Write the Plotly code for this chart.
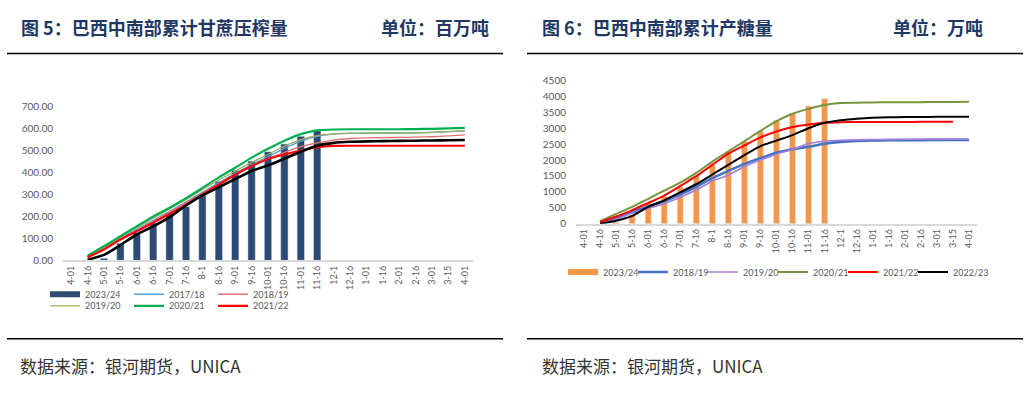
import plotly.graph_objects as go

W, H = 1033, 397

# ---------------- data ----------------
cats = ["4-01", "4-16", "5-01", "5-16", "6-01", "6-16", "7-01", "7-16", "8-1", "8-16",
        "9-01", "9-16", "10-01", "10-16", "11-01", "11-16", "12-1", "12-16", "1-01", "1-16",
        "2-01", "2-16", "3-01", "3-15", "4-01"]

# Figure 5: cumulative cane crush (million t)
crush_2324 = [None, None, 10, 78, 126, 170, 212, 245, 296, 360, 410, 452, 495, 530, 565, 595,
              None, None, None, None, None, None, None, None, None]
crush_1718 = [None, 18, 55, 100, 142, 183, 224, 266, 310, 354, 396, 436, 472, 510, 543, 565,
              575, 578, 579, 580, 580, 581, 583, 586, 590]
crush_1819 = [None, 16, 52, 96, 137, 178, 220, 262, 305, 348, 390, 428, 462, 492, 518, 535,
              548, 555, 558, 559, 560, 561, 563, 567, 571]
crush_1920 = [None, 20, 60, 106, 150, 192, 234, 277, 322, 366, 406, 446, 482, 520, 550, 568,
              576, 579, 580, 580, 580, 581, 583, 586, 590]
crush_2021 = [None, 22, 65, 110, 155, 200, 240, 283, 330, 378, 422, 468, 508, 545, 575, 592,
              596, 597, 597, 597, 597, 598, 599, 601, 603]
crush_2122 = [None, 15, 50, 95, 133, 172, 212, 254, 300, 345, 390, 430, 462, 482, 500, 515,
              521, 522, 522, 522, 522, 522, 522, 522, 522]
crush_2223 = [None, 3, 25, 70, 118, 155, 197, 250, 296, 333, 370, 407, 433, 463, 495, 522,
              535, 540, 542, 543, 544, 545, 546, 547, 548]

# Figure 6: cumulative sugar output (10k t)
sugar_2324 = [None, None, 40, 274, 650, 850, 1150, 1500, 1850, 2256, 2591, 2917, 3242, 3476, 3699, 3930,
              None, None, None, None, None, None, None, None, None]
sugar_1819 = [None, 40, 173, 376, 540, 700, 920, 1160, 1430, 1660, 1880, 2060, 2230, 2337, 2420, 2510,
              2570, 2600, 2615, 2620, 2624, 2627, 2629, 2630, 2632]
sugar_1920 = [None, 20, 142, 325, 478, 630, 833, 1057, 1341, 1524, 1799, 2002, 2185, 2337, 2520, 2591,
              2620, 2635, 2645, 2650, 2653, 2656, 2658, 2660, 2663]
sugar_2021 = [None, 80, 305, 528, 782, 1037, 1290, 1595, 1951, 2276, 2591, 2917, 3222, 3455, 3608, 3730,
              3790, 3800, 3810, 3815, 3818, 3820, 3822, 3826, 3831]
sugar_2122 = [None, 50, 224, 427, 650, 884, 1189, 1494, 1850, 2205, 2460, 2713, 2896, 3040, 3120, 3170,
              3190, 3195, 3197, 3198, 3199, 3200, 3200, 3200, None]
sugar_2223 = [None, 0, 91, 244, 528, 732, 986, 1240, 1545, 1850, 2154, 2439, 2612, 2785, 3000, 3170,
              3252, 3300, 3330, 3345, 3350, 3355, 3358, 3362, 3364]

xs = list(range(len(cats)))

def px(x):
    return x / W

def py(y):
    return 1 - y / H

NUM_FONT = "Lato"
CJK_FONT = "Noto Sans CJK SC"
GRAY = "#595959"

fig = go.Figure()

# ---------- left chart ----------
NAVY = "#2C4A72"
fig.add_trace(go.Bar(x=xs, y=crush_2324, width=0.45, marker_color=NAVY, showlegend=False,
                     xaxis="x", yaxis="y", name="2023/24"))
left_lines = [
    ("2017/18", crush_1718, "#5B9BD5", 1.3, "legend"),
    ("2018/19", crush_1819, "#E07070", 1.3, "legend"),
    ("2019/20", crush_1920, "#9DAE5E", 1.3, "legend2"),
    ("2020/21", crush_2021, "#00B050", 2.2, "legend2"),
    ("2021/22", crush_2122, "#FF0000", 2.2, "legend2"),
    ("2022/23", crush_2223, "#000000", 2.6, None),
]
# legend proxy for bar series
fig.add_trace(go.Scatter(x=[None], y=[None], mode="lines", name="2023/24",
                         line=dict(color=NAVY, width=6), xaxis="x", yaxis="y", legend="legend"))
for name, vals, col, w, lg in left_lines:
    kw = dict(legend=lg) if lg else dict(showlegend=False)
    fig.add_trace(go.Scatter(x=xs, y=vals, mode="lines", name=name,
                             line=dict(color=col, width=w, shape="spline", smoothing=0.6),
                             xaxis="x", yaxis="y", **kw))

# ---------- right chart ----------
ORANGE = "#F79646"
fig.add_trace(go.Bar(x=xs, y=sugar_2324, width=0.38, marker_color=ORANGE, showlegend=False,
                     xaxis="x2", yaxis="y2", name="2023/24"))
fig.add_trace(go.Scatter(x=[None], y=[None], mode="lines", name="2023/24",
                         line=dict(color=ORANGE, width=6), xaxis="x2", yaxis="y2", legend="legend3"))
right_lines = [
    ("2018/19", sugar_1819, "#4472C4", 2.6),
    ("2019/20", sugar_1920, "#A57EDB", 1.6),
    ("2020/21", sugar_2021, "#77933C", 2.0),
    ("2021/22", sugar_2122, "#FF0000", 2.0),
    ("2022/23", sugar_2223, "#000000", 2.0),
]
for k, (name, vals, col, w) in enumerate(right_lines):
    fig.add_trace(go.Scatter(x=xs, y=vals, mode="lines", name=name,
                             line=dict(color=col, width=w, shape="spline", smoothing=0.6),
                             xaxis="x2", yaxis="y2", legend=f"legend{k + 4}"))

xaxis_common = dict(range=[-0.5, len(cats) - 0.5], tickmode="array", tickvals=xs, ticktext=cats,
                    tickangle=-90, showgrid=False, zeroline=False, showline=True,
                    linecolor="#D9D9D9", linewidth=1.5, ticks="",
                    tickfont=dict(family=NUM_FONT, size=9, color=GRAY), fixedrange=True)
yaxis_common = dict(showgrid=False, zeroline=False, showline=False, ticks="",
                    tickfont=dict(family=NUM_FONT, size=10, color=GRAY), fixedrange=True,
                    ticklabelstandoff=9)

legend_common = dict(orientation="h", bgcolor="rgba(0,0,0,0)", borderwidth=0,
                     xanchor="left", yanchor="middle",
                     itemclick=False, itemdoubleclick=False,
                     font=dict(family=NUM_FONT, size=9, color=GRAY))

legends = dict(
    legend=dict(x=px(45), y=py(297), entrywidth=39, entrywidthmode="pixels", **legend_common),
    legend2=dict(x=px(45), y=py(309), entrywidth=39, entrywidthmode="pixels", **legend_common),
)
for k in range(6):
    legends[f"legend{k + 3}"] = dict(x=px(563 + 70 * k), y=py(274), **legend_common)

fig.update_layout(
    width=W, height=H, autosize=False,
    margin=dict(l=0, r=0, t=0, b=0),
    paper_bgcolor="white", plot_bgcolor="white",
    barmode="overlay",
    xaxis=dict(domain=[px(63), px(473)], anchor="y", **xaxis_common),
    yaxis=dict(domain=[py(262), py(103)], anchor="x", range=[0, 700], dtick=100,
               tickformat=".2f", **yaxis_common),
    xaxis2=dict(domain=[px(576), px(977)], anchor="y2", **xaxis_common),
    yaxis2=dict(domain=[py(224), py(76)], anchor="x2", range=[0, 4500], dtick=500,
                **yaxis_common),
    showlegend=True,
    **legends,
)

# ---------- header / footer decorations ----------
TITLE_COL = "#1F3864"
def add_text(x, y, text, size, color, xanchor="left", bold=False):
    fig.add_annotation(x=px(x), y=py(y), xref="paper", yref="paper", showarrow=False,
                       xanchor=xanchor, yanchor="middle",
                       text=f"<b>{text}</b>" if bold else text,
                       font=dict(family=CJK_FONT, size=size, color=color))

add_text(19, 21, "图 5：巴西中南部累计甘蔗压榨量", 18, TITLE_COL, bold=True)
add_text(491, 21, "单位：百万吨", 18, TITLE_COL, xanchor="right", bold=True)
add_text(540, 21, "图 6：巴西中南部累计产糖量", 18, TITLE_COL, bold=True)
add_text(985, 21, "单位：万吨", 18, TITLE_COL, xanchor="right", bold=True)
add_text(18, 371, "数据来源：银河期货，UNICA", 17, "#333333")
add_text(540, 371, "数据来源：银河期货，UNICA", 17, "#333333")

for (x0, x1) in [(7, 503), (527, 1023)]:
    for y in (48, 343):
        fig.add_shape(type="line", xref="paper", yref="paper",
                      x0=px(x0), x1=px(x1), y0=py(y), y1=py(y),
                      line=dict(color="black", width=1.5))

fig.write_html("out.html", config={"displayModeBar": False},
               post_script="document.body.style.margin='0';")
